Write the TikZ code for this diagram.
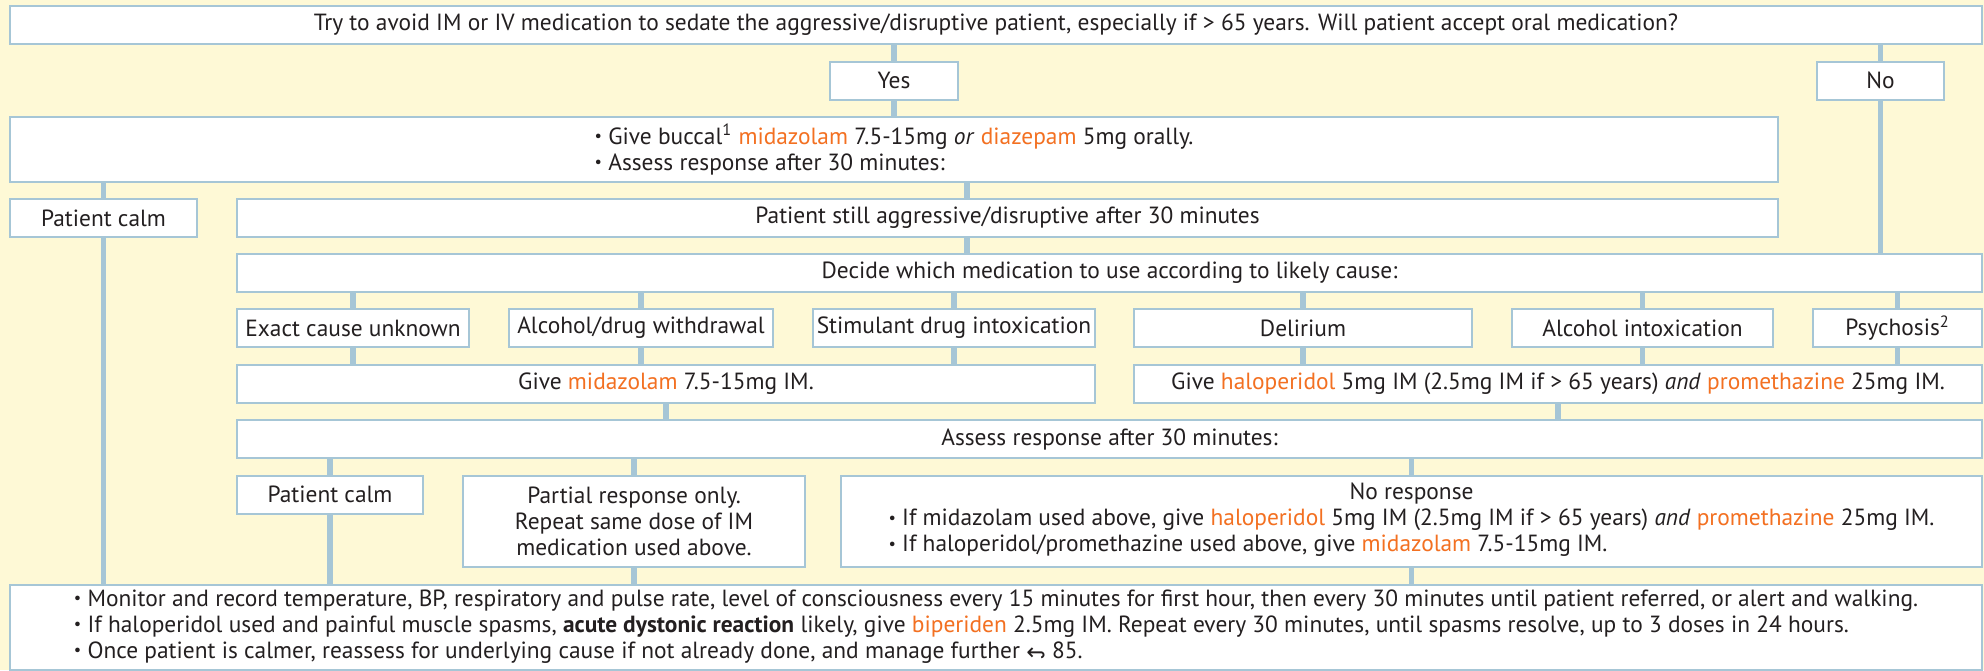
\documentclass[tikz,border=0pt]{standalone}
\usepackage{fontspec}
\usepackage{graphicx}
\setmainfont{PT Sans}
\newfontfamily\symfont{DejaVu Sans}
\usetikzlibrary{backgrounds}
\definecolor{bgyellow}{HTML}{FEF9D6}
\definecolor{boxline}{HTML}{A6C6D6}
\definecolor{drugc}{HTML}{F37021}
\definecolor{ink}{HTML}{231F20}
\newcommand\orng[1]{\textcolor{drugc}{#1}}
\newcommand\backref{{\symfont\raisebox{\depth}{\scalebox{1}[-1]{↩}}}}
\newcommand\bul{\raisebox{0.25ex}{\scalebox{0.7}{•}}}
\begin{document}
\begin{tikzpicture}[x=0.5pt,y=-0.5pt,
  font=\fontsize{11.7}{13}\selectfont, text=ink,
  box/.style={draw=boxline, line width=1pt, fill=white, inner sep=0pt, minimum height=19pt},
  conn/.style={draw=boxline, line width=2.6pt}]
\useasboundingbox (0,0) rectangle (1984,670);
\node[box, minimum width=986pt] (top) at (996,25) {Try to avoid IM or IV medication to sedate the aggressive/disruptive patient, especially if > 65 years. Will patient accept oral medication?};
\node[box, minimum width=64pt] (yes) at (894,80.5) {Yes};
\node[box, minimum width=63.5pt] (no) at (1880.5,80.5) {No};
\node[box, minimum width=884pt, minimum height=32.5pt, align=left] (buccal) at (894,149.5) {\bul{} Give buccal\textsuperscript{1} \orng{midazolam} 7.5-15mg \textit{or} \orng{diazepam} 5mg orally.\\\bul{} Assess response after 30 minutes:};
\node[box, minimum width=93.5pt] (calm1) at (103.5,218) {Patient calm};
\node[box, minimum width=770.5pt] (still) at (1007.5,218) {Patient still aggressive/disruptive after 30 minutes};
\node[box, minimum width=872.5pt] (decide) at (1109.5,273) {Decide which medication to use according to likely cause:};
\node[box, minimum width=116pt] (exact) at (353,328) {Exact cause unknown};
\node[box, minimum width=132pt] (withdr) at (641,328) {Alcohol/drug withdrawal};
\node[box, minimum width=141pt] (stim) at (954,328) {Stimulant drug intoxication};
\node[box, minimum width=169pt] (delir) at (1303,328) {Delirium};
\node[box, minimum width=130.5pt] (alcint) at (1642.5,328) {Alcohol intoxication};
\node[box, minimum width=84.5pt] (psych) at (1897.5,328) {Psychosis\textsuperscript{2}};
\node[box, minimum width=429pt] (givemid) at (666,384) {Give \orng{midazolam} 7.5-15mg IM.};
\node[box, minimum width=424pt] (givehal) at (1558,384) {Give \orng{haloperidol} 5mg IM (2.5mg IM if > 65 years) \textit{and} \orng{promethazine} 25mg IM.};
\node[box, minimum width=872.5pt] (assess) at (1109.5,439) {Assess response after 30 minutes:};
\node[box, minimum width=93pt] (calm2) at (330,494.5) {Patient calm};
\node[box, minimum width=171pt, minimum height=45.5pt, align=center] (partial) at (634,521.5) {Partial response only.\\Repeat same dose of IM\\medication used above.};
\node[box, minimum width=570.5pt, minimum height=45.5pt, align=center] (noresp) at (1411.5,521.5) {No response\\\begin{tabular}[t]{@{}l@{}}\bul{} If midazolam used above, give \orng{haloperidol} 5mg IM (2.5mg IM if > 65 years) \textit{and} \orng{promethazine} 25mg IM.\\\bul{} If haloperidol/promethazine used above, give \orng{midazolam} 7.5-15mg IM.\end{tabular}};
\node[box, minimum width=986pt, minimum height=42.5pt, align=left] (bottom) at (996,627) {\bul{} Monitor and record temperature, BP, respiratory and pulse rate, level of consciousness every 15 minutes for first hour, then every 30 minutes until patient referred, or alert and walking.\\\bul{} If haloperidol used and painful muscle spasms, \textbf{acute dystonic reaction} likely, give \orng{biperiden} 2.5mg IM. Repeat every 30 minutes, until spasms resolve, up to 3 doses in 24 hours.\\\bul{} Once patient is calmer, reassess for underlying cause if not already done, and manage further \backref{} 85.};
\coordinate (sx) at (967,0);
\begin{scope}[on background layer]
\fill[bgyellow] (0,0) rectangle (1984,670);
\draw[conn] (top.south -| yes) -- (yes.north);
\draw[conn] (yes.south) -- (buccal.north -| yes);
\draw[conn] (top.south -| no) -- (no.north);
\draw[conn] (no.south) -- (decide.north -| no);
\draw[conn] (buccal.south -| calm1) -- (calm1.north);
\draw[conn] (buccal.south -| sx) -- (still.north -| sx);
\draw[conn] (calm1.south) -- (bottom.north -| calm1);
\draw[conn] (still.south -| sx) -- (decide.north -| sx);
\foreach \n in {exact,withdr,stim,delir,alcint,psych} {\draw[conn] (decide.south -| \n) -- (\n.north);}
\foreach \n in {exact,withdr,stim} {\draw[conn] (\n.south) -- (givemid.north -| \n);}
\foreach \n in {delir,alcint,psych} {\draw[conn] (\n.south) -- (givehal.north -| \n);}
\draw[conn] (givemid.south) -- (assess.north -| givemid);
\draw[conn] (givehal.south) -- (assess.north -| givehal);
\foreach \n in {calm2,partial,noresp} {\draw[conn] (assess.south -| \n) -- (\n.north); \draw[conn] (\n.south) -- (bottom.north -| \n);}
\end{scope}
\end{tikzpicture}
\end{document}
